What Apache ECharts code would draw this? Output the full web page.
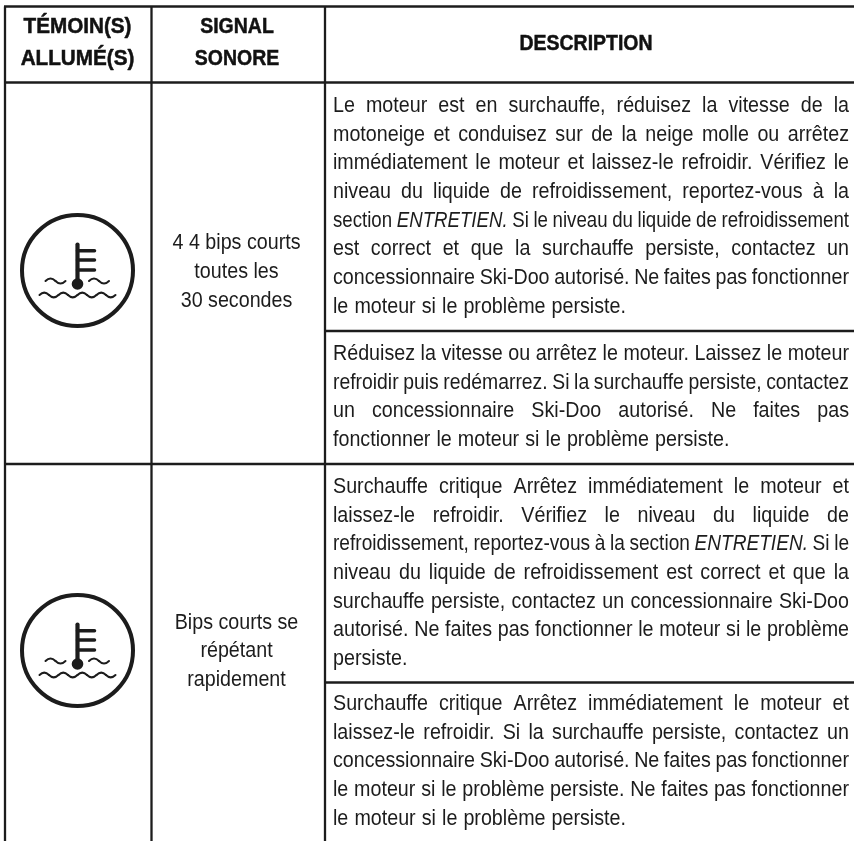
<!DOCTYPE html>
<html lang="en">
    <head>
        <meta charset="UTF-8" />
        <title>Témoins</title>
        <script src="https://cdn.jsdelivr.net/npm/echarts@6/dist/echarts.min.js"></script>
        <style>
            body {
                margin: 0;
                padding: 0;
                background: #fff;
            }
            #chart {
                width: 854px;
                height: 841px;
            }
        </style>
    </head>
    <body>
        <div id="chart"></div>
        <script>
            const headers = [
                ['TÉMOIN(S)', 'ALLUMÉ(S)'],
                ['SIGNAL', 'SONORE'],
                ['DESCRIPTION']
            ];
            const signals = [
                ['4 4 bips courts', 'toutes les', '30 secondes'],
                ['Bips courts se', 'répétant', 'rapidement']
            ];
            const descriptions = [
                [
                    'Le moteur est en surchauffe, réduisez la vitesse de la',
                    'motoneige et conduisez sur de la neige molle ou arrêtez',
                    'immédiatement le moteur et laissez-le refroidir. Vérifiez le',
                    'niveau du liquide de refroidissement, reportez-vous à la',
                    'section ENTRETIEN. Si le niveau du liquide de refroidissement',
                    'est correct et que la surchauffe persiste, contactez un',
                    'concessionnaire Ski-Doo autorisé. Ne faites pas fonctionner',
                    'le moteur si le problème persiste.'
                ],
                [
                    'Réduisez la vitesse ou arrêtez le moteur. Laissez le moteur',
                    'refroidir puis redémarrez. Si la surchauffe persiste, contactez',
                    'un concessionnaire Ski-Doo autorisé. Ne faites pas',
                    'fonctionner le moteur si le problème persiste.'
                ],
                [
                    'Surchauffe critique Arrêtez immédiatement le moteur et',
                    'laissez-le refroidir. Vérifiez le niveau du liquide de',
                    'refroidissement, reportez-vous à la section ENTRETIEN. Si le',
                    'niveau du liquide de refroidissement est correct et que la',
                    'surchauffe persiste, contactez un concessionnaire Ski-Doo',
                    'autorisé. Ne faites pas fonctionner le moteur si le problème',
                    'persiste.'
                ],
                [
                    'Surchauffe critique Arrêtez immédiatement le moteur et',
                    'laissez-le refroidir. Si la surchauffe persiste, contactez un',
                    'concessionnaire Ski-Doo autorisé. Ne faites pas fonctionner',
                    'le moteur si le problème persiste. Ne faites pas fonctionner',
                    'le moteur si le problème persiste.'
                ]
            ];
            const italicWords = ['ENTRETIEN.'];

            // layout, in page pixels
            const colX = [5, 151.5, 325, 854];
            const rowY = [6.5, 82.5, 331, 464, 682.5];
            const bodyFont = '"Liberation Sans", sans-serif';
            const bodySize = 22.5;
            const bodyScale = 0.875; // no condensed face installed, so squeeze it
            const headSize = 22;
            const headScales = [0.94, 0.885, 0.885];
            const minGap = 4.6;
            const lineH = 28.7;
            const textLeft = 333;
            const textRight = 849;
            const descBase = [113.4, 361.4, 494.5, 711.6];
            const iconCenters = [[77.5, 270.5], [77.5, 650.5]];
            const signalBase = [250.9, 630.2];
            const headCenters = [77.5, 237, 586];
            const headBase = [[35, 66.5], [35, 66.5], [51.5]];
            const ink = '#1c1c1c';
            const midToBase = 0.3465;

            const ctx = document.createElement('canvas').getContext('2d');
            function measure(str, italic) {
                ctx.font = (italic ? 'italic ' : '') + bodySize + 'px ' + bodyFont;
                return ctx.measureText(str).width;
            }

            // one word per item, spaced so that every line but the last fills the cell;
            // lines that would get too tight are squeezed a bit more instead
            let wordData = [];
            descriptions.forEach((lines, b) => {
                lines.forEach((line, i) => {
                    let words = line.split(' ');
                    let widths = words.map((w) => measure(w, italicWords.includes(w)));
                    let sum = widths.reduce((a, c) => a + c, 0);
                    let last = i === lines.length - 1;
                    let room = textRight - textLeft - minGap * (words.length - 1);
                    let scale = last ? bodyScale : Math.min(bodyScale, room / sum);
                    let gap = last
                        ? measure(' ') * bodyScale + 0.6
                        : (textRight - textLeft - sum * scale) / (words.length - 1);
                    let x = textLeft;
                    words.forEach((w, k) => {
                        wordData.push([x, descBase[b] + i * lineH - midToBase * bodySize, w, scale]);
                        x += widths[k] * scale + gap;
                    });
                });
            });

            let centerData = [];
            signals.forEach((lines, s) => {
                lines.forEach((line, i) => {
                    centerData.push([236.5, signalBase[s] + i * lineH - midToBase * bodySize, line]);
                });
            });

            let headerData = [];
            headers.forEach((lines, c) => {
                lines.forEach((line, i) => {
                    headerData.push([headCenters[c], headBase[c][i] - midToBase * headSize, line, headScales[c]]);
                });
            });

            const ruleData = [
                [4, rowY[0], colX[3], rowY[0]],
                [4, rowY[1], colX[3], rowY[1]],
                [colX[2], rowY[2], colX[3], rowY[2]],
                [4, rowY[3], colX[3], rowY[3]],
                [colX[2], rowY[4], colX[3], rowY[4]],
                [colX[0], rowY[0], colX[0], 841],
                [colX[1], rowY[0], colX[1], 841],
                [colX[2], rowY[0], colX[2], 841]
            ];

            function renderRule(params, api) {
                let a = api.coord([api.value(0), api.value(1)]);
                let b = api.coord([api.value(2), api.value(3)]);
                return {
                    type: 'line',
                    shape: { x1: a[0], y1: a[1], x2: b[0], y2: b[1] },
                    style: { stroke: ink, lineWidth: 2.3 }
                };
            }

            function renderWord(params, api) {
                let p = api.coord([api.value(0), api.value(1)]);
                let word = api.value(2);
                return {
                    type: 'text',
                    x: p[0],
                    y: p[1],
                    scaleX: api.value(3),
                    style: {
                        text: word,
                        fill: ink,
                        font: (italicWords.includes(word) ? 'italic ' : '') + bodySize + 'px ' + bodyFont,
                        align: 'left',
                        verticalAlign: 'middle'
                    }
                };
            }

            function renderCentered(params, api) {
                let p = api.coord([api.value(0), api.value(1)]);
                return {
                    type: 'text',
                    x: p[0],
                    y: p[1],
                    scaleX: bodyScale,
                    style: {
                        text: api.value(2),
                        fill: ink,
                        font: bodySize + 'px ' + bodyFont,
                        align: 'center',
                        verticalAlign: 'middle'
                    }
                };
            }

            function renderHeader(params, api) {
                let p = api.coord([api.value(0), api.value(1)]);
                return {
                    type: 'text',
                    x: p[0],
                    y: p[1],
                    scaleX: api.value(3),
                    style: {
                        text: api.value(2),
                        fill: '#111',
                        stroke: '#111',
                        lineWidth: 0.5,
                        font: 'bold ' + headSize + 'px ' + bodyFont,
                        align: 'center',
                        verticalAlign: 'middle'
                    }
                };
            }

            function wave(x0, y0, step, count, amp) {
                let out = [];
                for (let i = 0; i < count; i++) {
                    out.push({
                        type: 'bezierCurve',
                        shape: {
                            x1: x0 + i * step,
                            y1: y0,
                            x2: x0 + (i + 1) * step,
                            y2: y0,
                            cpx1: x0 + (i + 0.5) * step,
                            cpy1: y0 + (i % 2 ? amp : -amp)
                        },
                        style: { stroke: ink, fill: null, lineWidth: 2, lineCap: 'round' }
                    });
                }
                return out;
            }

            function renderIcon(params, api) {
                let c = api.coord([api.value(0), api.value(1)]);
                let bars = [-19.8, -10.5, -0.5].map((dy) => ({
                    type: 'line',
                    shape: { x1: 0, y1: dy, x2: 17, y2: dy },
                    style: { stroke: ink, lineWidth: 3.5, lineCap: 'round' }
                }));
                return {
                    type: 'group',
                    x: c[0],
                    y: c[1],
                    children: [
                        { type: 'circle', shape: { cx: 0, cy: 0, r: 55.5 }, style: { stroke: ink, fill: null, lineWidth: 4 } },
                        { type: 'line', shape: { x1: 0, y1: -26, x2: 0, y2: 13 }, style: { stroke: ink, lineWidth: 4.2, lineCap: 'round' } },
                        { type: 'circle', shape: { cx: 0, cy: 13.5, r: 5.8 }, style: { fill: ink } }
                    ]
                        .concat(bars)
                        .concat(wave(-32, 10.5, 10, 2, 5))
                        .concat(wave(11.5, 10.5, 10, 2, 5))
                        .concat(wave(-38, 24.5, 9.5, 8, 4.7))
                };
            }

            const option = {
                animation: false,
                backgroundColor: '#fff',
                grid: { left: 0, right: 0, top: 0, bottom: 0 },
                xAxis: { type: 'value', min: 0, max: 854, show: false },
                yAxis: { type: 'value', min: 0, max: 841, inverse: true, show: false },
                series: [
                    { type: 'custom', data: ruleData, renderItem: renderRule, silent: true },
                    { type: 'custom', data: iconCenters, renderItem: renderIcon, silent: true },
                    { type: 'custom', data: headerData, renderItem: renderHeader, silent: true },
                    { type: 'custom', data: centerData, renderItem: renderCentered, silent: true },
                    { type: 'custom', data: wordData, renderItem: renderWord, silent: true }
                ]
            };
            let myChart = echarts.init(document.getElementById('chart'));
            myChart.setOption(option);
        </script>
    </body>
</html>
